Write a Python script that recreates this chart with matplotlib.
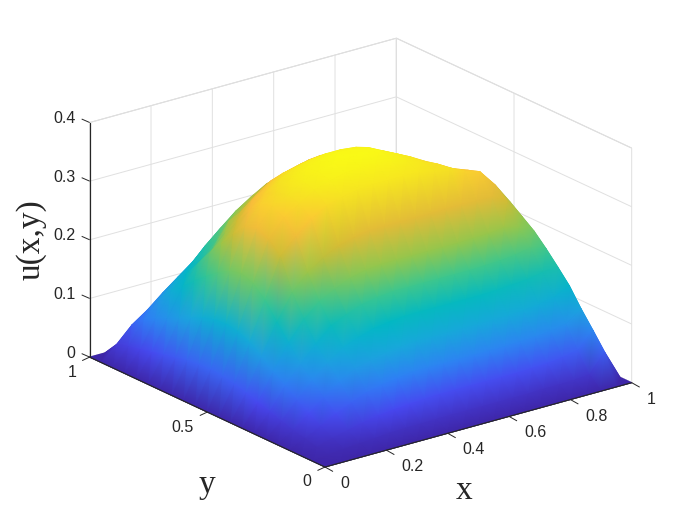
"""Surface plot of u(x,y) in the MATLAB look."""
import matplotlib
matplotlib.use('Agg')
import matplotlib.pyplot as plt
from matplotlib.colors import LinearSegmentedColormap, Normalize
from mpl_toolkits.mplot3d import proj3d
import numpy as np

# data: one list per x node, values along y = 0, .05 ... 1
nodes = [0, .05, .1, .15, .2, .25, .3, .35, .4, .45, .5, .55, .6, .65, .7, .75, .8, .85, .9, .95, 1]
u_cols = [
    [0] * 21,
    [0, .003, .007, .012, .017, .023, .03, .036, .043, .049, .053, .055, .054, .052, .047, .043, .038, .033, .029, .024, 0],
    [0, .006, .015, .026, .038, .052, .067, .082, .098, .113, .122, .126, .124, .118, .108, .098, .088, .078, .068, .05, 0],
    [0, .008, .021, .04, .058, .078, .097, .124, .15, .178, .197, .205, .2, .188, .172, .155, .135, .118, .095, .068, 0],
    [0, .01, .027, .052, .078, .101, .124, .157, .193, .245, .265, .275, .268, .245, .22, .195, .168, .14, .118, .09, 0],
    [0, .012, .032, .062, .093, .12, .148, .18, .22, .272, .295, .305, .3, .278, .25, .222, .188, .158, .138, .11, 0],
    [0, .013, .035, .068, .1, .13, .16, .194, .238, .295, .312, .317, .313, .3, .28, .25, .225, .185, .165, .13, 0],
    [0, .013, .037, .072, .106, .138, .17, .206, .251, .31, .328, .333, .33, .318, .298, .272, .24, .215, .188, .155, 0],
    [0, .014, .039, .076, .11, .142, .175, .212, .258, .318, .337, .343, .34, .33, .312, .29, .26, .235, .21, .172, 0],
    [0, .014, .04, .076, .112, .145, .178, .215, .263, .323, .343, .35, .348, .337, .318, .298, .268, .25, .227, .195, 0],
    [0, .014, .04, .076, .112, .145, .178, .215, .263, .325, .345, .352, .352, .34, .322, .305, .285, .262, .242, .21, 0],
    [0, .014, .04, .076, .112, .145, .178, .215, .263, .325, .345, .353, .35, .34, .322, .305, .29, .27, .25, .222, 0],
    [0, .014, .04, .076, .112, .145, .178, .215, .263, .325, .342, .35, .346, .337, .32, .305, .295, .278, .258, .23, 0],
    [0, .014, .04, .076, .112, .145, .178, .215, .263, .325, .335, .338, .333, .325, .312, .3, .29, .278, .26, .24, 0],
    [0, .014, .04, .076, .112, .145, .178, .215, .264, .32, .326, .325, .32, .312, .3, .295, .285, .275, .262, .248, 0],
    [0, .015, .041, .077, .113, .146, .179, .216, .264, .318, .315, .31, .303, .295, .288, .285, .28, .268, .258, .245, 0],
    [0, .015, .042, .078, .114, .148, .18, .217, .263, .305, .3, .292, .283, .28, .275, .275, .27, .26, .253, .242, 0],
    [0, .016, .045, .081, .117, .15, .183, .22, .263, .297, .29, .28, .272, .268, .258, .258, .26, .25, .245, .238, 0],
    [0, .018, .05, .086, .122, .155, .188, .212, .25, .267, .274, .268, .262, .258, .25, .25, .245, .24, .235, .23, 0],
    [0, .05, .078, .105, .135, .158, .18, .2, .215, .23, .24, .245, .245, .24, .23, .23, .23, .226, .225, .22, 0],
    [0] * 21,
]
x_ticks = [0, .2, .4, .6, .8, 1]
x_ticklabels = ['0', '0.2', '0.4', '0.6', '0.8', '1']
y_ticks = [0, .5, 1]
y_ticklabels = ['0', '0.5', '1']
z_ticks = [0, .1, .2, .3, .4]
z_ticklabels = ['0', '0.1', '0.2', '0.3', '0.4']

parula = LinearSegmentedColormap.from_list('parula', [
    '#3e26a8', '#4748f0', '#2f7ff5', '#1aa6dd', '#02b8c4', '#3bc68f',
    '#90c74f', '#cfbc35', '#fdbd3c', '#f6e322', '#f9fb15'])
norm = Normalize(0, .355)
INK = '#262626'
ASPECT = (1, 1, .65)

plt.rcParams['font.family'] = ['Liberation Sans', 'DejaVu Sans']

fig = plt.figure(figsize=(7, 5.25), dpi=100)
ax = fig.add_axes([0, 0, 1, 1], projection='3d')
ax.set_proj_type('ortho')
ax.view_init(elev=21, azim=-127.5)
zoom = 1.2
ax.set_box_aspect(ASPECT, zoom=zoom)
ax.set_xlim(0, 1, view_margin=0)
ax.set_ylim(0, 1, view_margin=0)
ax.set_zlim(0, .4, view_margin=0)

X, Y = np.meshgrid(nodes, nodes)
U = np.array(u_cols).T
ax.plot_surface(X, Y, U, rstride=1, cstride=1, cmap=parula, norm=norm,
                linewidth=0, antialiased=True, shade=False)

ax.set_xticks(x_ticks, [''] * len(x_ticks))
ax.set_yticks(y_ticks, [''] * len(y_ticks))
ax.set_zticks(z_ticks, [''] * len(z_ticks))
for axis in (ax.xaxis, ax.yaxis, ax.zaxis):
    axis.set_pane_color((1, 1, 1, 1))
    axis.pane.set_edgecolor('#d4d4d4')
    axis.pane.set_linewidth(.7)
    axis.line.set_color(INK)
    axis.line.set_linewidth(.8)
    axis._axinfo['grid'].update(color='#e0e0e0', linewidth=.7)
    axis._axinfo['tick'].update(inward_factor=0, outward_factor=0)


def to_px(xs, ys, zs):
    px, py, _ = proj3d.proj_transform(np.asarray(xs, float), np.asarray(ys, float),
                                      np.asarray(zs, float), ax.get_proj())
    return ax.transData.transform(np.column_stack([px, py]))


# line the box up with the reference corners
fig.canvas.draw()
p = to_px([0, 1], [1, 0], [0, 0])
zoom *= (633 - 91) / (p[1, 0] - p[0, 0])
ax.set_box_aspect(ASPECT, zoom=zoom)
fig.canvas.draw()
p = to_px([0], [0], [0])[0]
ax.set_position([(325 - p[0]) / 700, (58 - p[1]) / 525, 1, 1])
fig.canvas.draw()

# smooth colouring on top of the facets, back triangles first
pts = to_px(X.ravel(), Y.ravel(), U.ravel())
depth = proj3d.proj_transform(X.ravel(), Y.ravel(), U.ravel(), ax.get_proj())[2]
n = len(nodes)
triangles = []
for j in range(n - 1):
    for i in range(n - 1):
        k = j * n + i
        triangles.append([k, k + 1, k + n + 1])
        triangles.append([k, k + n + 1, k + n])
triangles = np.array(triangles)
order = np.argsort(-depth[triangles].mean(axis=1))
ov = fig.add_axes([0, 0, 1, 1])
ov.set_xlim(0, 700)
ov.set_ylim(0, 525)
ov.axis('off')
ov.tripcolor(pts[:, 0], pts[:, 1], triangles[order], U.ravel(),
             shading='gouraud', cmap=parula, norm=norm)

# axis lines, ticks and tick labels, placed from the tick positions
edge = dict(color=INK, linewidth=.8, solid_capstyle='butt')
tick = dict(color=INK, linewidth=.7, solid_capstyle='butt')
a, b = to_px([0, 1], [0, 0], [0, 0])
ov.plot([a[0], b[0]], [a[1], b[1]], **edge)
a, b = to_px([0, 0], [0, 1], [0, 0])
ov.plot([a[0], b[0]], [a[1], b[1]], **edge)
a, b = to_px([0, 0], [1, 1], [0, .4])
ov.plot([a[0], b[0]], [a[1], b[1]], **edge)
for t, lab in zip(x_ticks, x_ticklabels):
    px, py = to_px([t], [0], [0])[0]
    ov.plot([px, px + 8], [py, py - 4.5], **tick)
    ov.text(px + 15, py - 16.5, lab, ha='left', va='center', fontsize=11.5, color=INK)
for t, lab in zip(y_ticks, y_ticklabels):
    px, py = to_px([0], [t], [0])[0]
    ov.plot([px, px - 7.5], [py, py - 3.5], **tick)
    ov.text(px - 13.5, py - 15, lab, ha='right', va='center', fontsize=11.5, color=INK)
for t, lab in zip(z_ticks, z_ticklabels):
    px, py = to_px([0], [1], [t])[0]
    ov.plot([px, px - 8], [py, py + 3.5], **tick)
    ov.text(px - 14, py + 4, lab, ha='right', va='center', fontsize=11.5, color=INK)

ov.text(464, 525 - 491, 'x', family='Liberation Serif', fontsize=24,
        ha='center', va='center', color=INK)
ov.text(207, 525 - 485, 'y', family='Liberation Serif', fontsize=24,
        ha='center', va='center', color=INK)
ov.text(31, 525 - 240, 'u(x,y)', family='Liberation Serif', fontsize=24,
        ha='center', va='center', rotation=90, color=INK)

fig.savefig('out.png', dpi=100)
